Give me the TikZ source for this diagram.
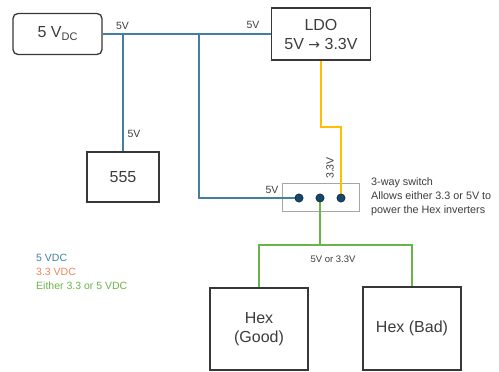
\documentclass[tikz,border=0pt]{standalone}
\usepackage{fontspec}
\setmainfont{Liberation Sans}
\newfontfamily\arrowfont{DejaVu Sans}
\usetikzlibrary{positioning}

\definecolor{vfive}{RGB}{66,128,160}
\definecolor{vthree}{RGB}{255,190,0}
\definecolor{veither}{RGB}{104,180,72}
\definecolor{legorange}{RGB}{240,130,90}
\definecolor{pinfill}{RGB}{24,72,104}
\definecolor{boxline}{RGB}{55,55,55}
\definecolor{txt}{RGB}{60,60,60}

\tikzset{
    block/.style={draw=boxline, line width=1.3pt, text=txt, align=center, font=\fontsize{16}{19}\selectfont},
    wirefive/.style={draw=vfive, line width=1.2pt},
    wirethree/.style={draw=vthree, line width=1.4pt},
    wireeither/.style={draw=veither, line width=1.2pt},
    tag/.style={text=txt, font=\fontsize{10.5}{12}\selectfont, inner sep=0pt},
    pin/.style={circle, draw=pinfill!70!black, fill=pinfill, line width=0.6pt, minimum size=8pt, inner sep=0pt}
}

\begin{document}
\begin{tikzpicture}[x=1pt, y=-1pt]
    \useasboundingbox (0,0) rectangle (499,372);

    % Blocks
    \node[block, rounded corners=5pt, minimum width=89pt, minimum height=41pt] (src) at (57.5,34)
        {5 V\raisebox{-0.35ex}{\fontsize{11}{12}\selectfont DC}};
    \node[block, minimum width=99pt, minimum height=52pt] (ldo) at (321,34)
        {LDO\\5V {\arrowfont\fontsize{14}{16}\selectfont →} 3.3V};
    \node[block, minimum width=72pt, minimum height=50pt] (timer) at (123,177) {555};
    \node[block, minimum width=98pt, minimum height=82pt] (good) at (259,329) {Hex\\(Good)};
    \node[block, minimum width=98pt, minimum height=83pt] (bad) at (412,328.5) {Hex (Bad)};

    % Switch
    \node[draw=black!35, line width=0.6pt, minimum width=77pt, minimum height=28pt] (sw) at (320.5,197) {};
    \node[pin] (pa) at (299,198) {};
    \node[pin] (pb) at (320,198) {};
    \node[pin] (pc) at (341,198) {};

    % Junctions
    \coordinate (ja) at (123,34);
    \coordinate (jb) at (199,34);
    \coordinate (bend) at (331,127);
    \coordinate (split) at (320,245);

    % 5V rail
    \draw[wirefive] (src.east) -- (ldo.west);
    \draw[wirefive] (ja) -- (timer.north);
    \draw[wirefive] (jb) |- (pa);
    % 3.3V
    \draw[wirethree] (ldo.south) |- (bend) -| (pc);
    % Either
    \draw[wireeither] (pb) -- (split);
    \draw[wireeither] (good.north) |- (split) -| (bad.north);
    \node[pin] at (pa) {};
    \node[pin] at (pb) {};
    \node[pin] at (pc) {};

    % Labels
    \node[tag] (la) at (122.5,26) {5V};
    \node[tag] (lb) at (253,25) {5V};
    \node[tag] (lc) at (134,134) {5V};
    \node[tag] (ld) at (272,190) {5V};
    \node[tag, rotate=90] (le) at (330,168) {3.3V};
    \node[tag, font=\fontsize{9.5}{11}\selectfont] (lf) at (333,259) {5V or 3.3V};

    \node[anchor=north west, text=txt, align=left, inner sep=0pt,
        font=\fontsize{10.8}{14}\selectfont] (note) at (371,177)
        {3-way switch\\Allows either 3.3 or 5V to\\power the Hex inverters};

    % Legend
    \node[anchor=west, inner sep=0pt, text=vfive, font=\fontsize{10.5}{12}\selectfont] (kfive) at (36,258) {5 VDC};
    \node[anchor=west, inner sep=0pt, text=legorange, font=\fontsize{10.5}{12}\selectfont] (kthree) at (36,272) {3.3 VDC};
    \node[anchor=west, inner sep=0pt, text=veither, font=\fontsize{10.5}{12}\selectfont] (keither) at (36,286) {Either 3.3 or 5 VDC};
\end{tikzpicture}
\end{document}
